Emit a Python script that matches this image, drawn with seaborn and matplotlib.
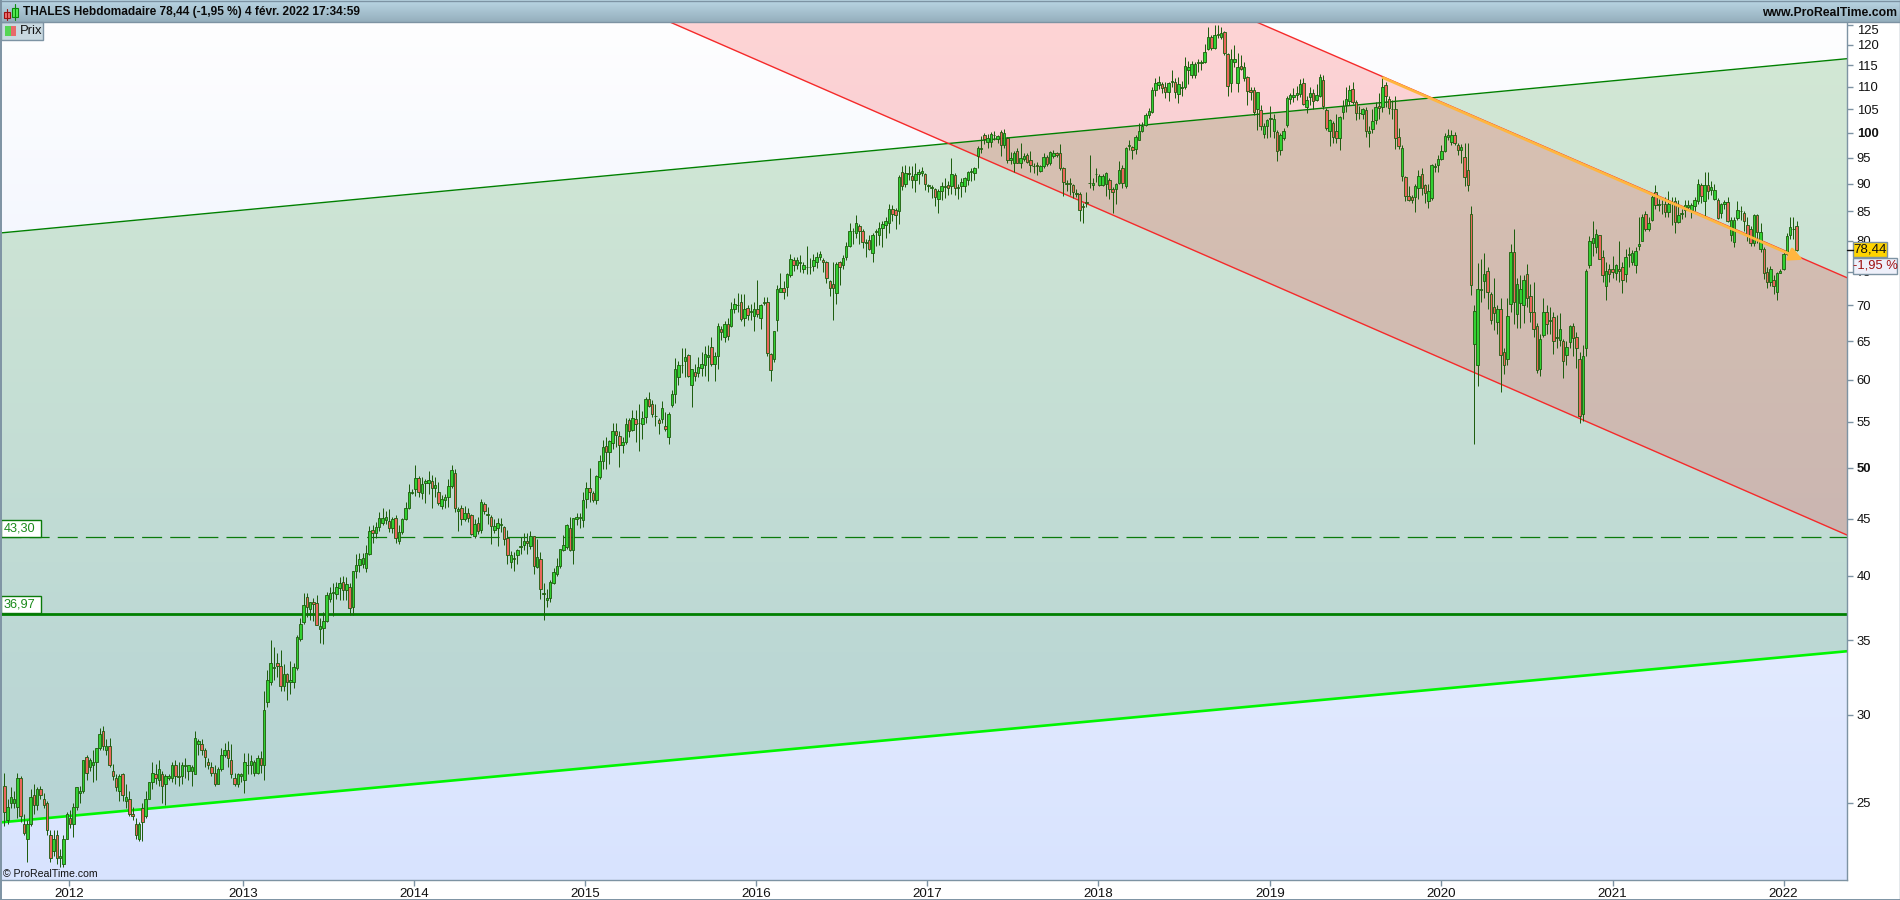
import numpy as np
import pandas as pd
import matplotlib
matplotlib.use('Agg')
import matplotlib.pyplot as plt
import seaborn as sns
from matplotlib.colors import LinearSegmentedColormap
from matplotlib.patches import Rectangle

# weekly candles, oldest first
opens = [
    25.9,24.1,25.0,25.0,24.8,26.3,23.9,23.2,23.9,25.4, 24.9,25.7,25.2,25.0,23.4,22.6,23.4,22.3,22.0,23.2,
    24.2,23.9,24.8,25.5,25.6,27.5,26.9,27.0,27.2,28.0, 29.0,27.9,28.1,26.7,26.3,25.6,26.5,25.1,25.2,24.4,
    23.9,23.2,24.7,24.3,25.2,26.1,26.5,26.2,26.5,26.0, 26.3,26.3,27.0,26.4,26.4,26.95,26.7,26.7,26.5,28.2,
    28.2,27.9,27.2,26.9,26.6,26.0,26.8,27.6,27.9,27.3, 26.3,26.0,26.4,26.2,27.05,27.05,26.6,26.6,27.4,27.0,
    30.8,32.1,33.0,33.4,33.2,31.8,32.6,32.1,32.1,33.0, 35.1,36.3,38.3,37.3,37.9,37.8,35.8,35.9,36.4,38.1,
    38.6,38.5,39.0,39.5,38.8,39.1,37.5,40.4,40.9,41.0, 40.6,41.8,44.0,43.7,44.2,44.6,44.9,44.8,44.1,45.1,
    43.0,43.8,45.0,46.0,47.5,47.8,49.0,47.5,48.4,48.4, 48.6,47.9,47.6,46.2,46.8,47.1,48.1,49.5,45.7,46.0,
    45.0,45.5,45.3,43.4,44.6,44.0,46.4,45.3,45.2,44.0, 44.1,44.4,44.2,43.2,41.1,41.4,41.7,42.4,42.6,43.0,
    42.5,43.4,40.7,41.4,38.5,38.0,38.2,39.4,40.1,40.8, 42.2,42.4,44.1,42.2,45.0,45.1,44.9,46.9,47.9,47.5,
    46.8,49.1,50.7,52.3,51.7,52.6,53.9,53.4,52.4,52.7, 55.2,54.1,55.3,54.8,54.7,55.5,57.7,57.0,55.6,55.2,
    55.3,54.5,53.3,56.9,58.3,60.3,61.8,62.3,63.1,59.4, 60.9,60.8,61.5,61.9,62.9,64.2,62.0,63.0,66.6,65.5,
    67.3,67.0,69.4,70.0,70.4,68.1,69.6,69.0,68.5,69.4, 68.2,70.3,70.4,63.3,62.6,67.9,72.0,72.6,72.7,74.5,
    76.9,76.0,76.4,75.5,75.7,75.7,75.9,76.6,77.3,76.9, 76.5,73.6,73.2,71.8,76.5,76.1,77.4,79.1,81.6,81.3,
    82.5,81.7,79.7,80.1,78.0,81.4,81.0,82.1,82.7,83.0, 85.5,85.3,85.1,92.2,89.9,92.1,91.5,90.8,91.9,92.0,
    91.8,89.6,89.3,89.0,87.3,88.6,89.4,89.7,89.5,91.7, 89.3,89.6,89.6,90.8,92.2,92.0,95.4,96.7,99.5,98.2,
    98.2,99.5,98.7,100.1,97.5,99.0,94.6,94.0,96.4,94.0, 94.8,95.5,94.6,93.3,93.6,92.5,93.4,95.1,94.0,95.3,
    95.9,95.9,93.0,90.0,90.2,89.8,88.2,88.2,85.9,86.6, 90.1,89.7,91.8,89.8,89.8,89.9,90.8,89.1,89.1,90.2,
    92.9,89.6,97.4,97.2,96.7,98.6,100.3,101.7,103.7,104.5, 109.2,110.5,110.6,110.0,108.8,111.2,111.2,108.3,109.7,110.0,
    113.9,112.7,112.7,115.6,115.6,115.8,118.9,122.0,119.3,122.5, 122.0,123.2,117.8,110.8,115.7,110.9,114.9,112.0,112.3,109.3,
    109.3,105.0,104.8,99.8,101.4,103.0,100.3,100.2,96.5,99.0, 101.6,107.3,107.7,108.1,108.3,110.8,105.4,107.7,108.7,107.1,
    108.0,111.5,104.9,100.4,102.1,100.3,99.0,104.4,106.0,106.9, 109.6,106.5,104.3,104.0,104.9,99.9,100.9,102.7,105.7,105.4,
    110.4,107.2,105.0,105.1,99.2,91.4,91.2,87.8,87.6,87.5, 89.3,91.8,89.7,86.8,87.4,93.2,93.6,94.7,96.4,99.1,
    98.2,99.6,97.6,96.5,95.2,92.6,84.5,64.6,61.8,72.3, 73.6,75.1,71.6,69.8,67.6,69.5,63.5,62.6,70.2,78.1,
    68.8,70.3,70.1,74.7,71.4,69.0,67.0,61.4,65.8,69.0, 67.7,68.3,65.6,65.2,65.0,63.1,64.9,67.0,65.5,62.6,
    55.9,64.1,76.0,79.7,79.0,80.9,77.4,72.8,75.4,75.5, 74.9,75.5,75.7,74.6,77.7,76.5,76.1,79.1,80.0,84.5,
    82.0,83.5,88.4,86.1,86.3,86.4,84.9,86.5,86.9,83.2, 84.6,85.2,85.8,85.2,85.9,86.9,89.7,86.9,89.8,88.9,
    87.3,87.1,84.7,86.4,86.7,81.0,79.8,83.9,85.0,84.8, 82.7,81.9,79.7,84.3,78.6,78.6,75.0,73.4,73.7,72.0,
    74.9,75.4,77.8,81.0,81.9,82.5,
]
closes = [
    24.5,24.8,25.3,25.2,26.3,24.3,23.5,23.9,25.3,24.9, 25.7,25.4,24.9,23.6,22.3,23.2,22.3,22.4,23.2,24.4,
    23.9,24.8,25.8,25.6,27.3,26.6,27.3,27.2,28.0,28.8, 28.1,28.1,27.0,26.4,25.8,26.4,25.4,25.3,24.4,24.3,
    23.4,23.9,24.0,25.2,26.1,26.6,26.3,26.8,25.9,26.4, 26.4,27.0,26.4,26.35,27.0,27.0,27.0,26.9,28.6,28.4,
    27.9,27.5,27.0,26.6,26.0,26.8,27.6,27.9,27.4,26.5, 26.0,26.5,26.5,27.2,27.05,27.25,27.2,27.4,27.0,30.3,
    32.2,33.4,33.1,33.2,31.8,32.6,32.1,32.2,33.1,35.2, 36.2,37.6,37.5,37.9,37.7,36.1,36.0,36.4,38.4,38.6,
    38.7,39.1,39.4,38.8,39.3,37.4,40.4,40.9,41.4,41.5, 41.9,43.9,43.7,44.2,45.1,45.1,45.2,44.1,45.0,43.2,
    43.8,45.0,46.0,47.6,47.6,49.0,47.6,48.3,48.6,48.7, 47.9,48.2,46.5,46.9,47.1,48.1,49.8,46.0,45.9,45.0,
    45.5,45.1,43.6,44.5,43.9,46.6,45.7,45.4,44.3,44.3, 44.6,44.5,43.1,41.7,41.7,41.5,42.2,42.5,43.0,42.8,
    43.4,40.8,41.6,38.9,38.6,38.2,39.5,40.3,40.8,42.3, 42.6,44.4,42.2,45.1,45.2,45.2,46.8,47.9,47.6,46.8,
    49.2,50.7,52.2,51.7,52.8,54.0,53.5,52.4,52.7,54.7, 54.0,55.4,54.7,54.9,55.4,57.7,56.8,55.9,55.7,54.8,
    56.6,54.2,55.9,58.2,61.3,61.8,61.9,62.9,60.5,61.3, 60.5,61.6,62.0,63.3,63.1,62.0,63.0,67.0,66.2,67.3,
    65.7,69.4,70.2,70.1,68.0,69.4,68.6,69.1,69.4,68.7, 70.0,70.4,63.4,61.2,66.3,72.4,72.6,72.0,74.7,77.0,
    76.1,76.8,76.6,76.0,75.8,75.8,76.9,77.4,77.8,76.5, 74.1,72.5,72.5,76.2,75.8,77.2,79.1,81.7,81.7,83.0,
    81.7,79.8,79.8,78.7,81.0,81.6,82.2,82.8,83.3,85.5, 84.5,84.3,91.3,89.5,92.1,91.9,90.8,91.9,92.2,92.4,
    89.9,89.7,89.4,87.6,88.7,89.6,89.6,89.3,91.9,89.2, 89.4,90.3,91.0,92.2,92.5,92.9,96.9,97.0,98.7,98.9,
    99.7,99.6,99.3,97.6,100.0,94.6,94.9,96.0,94.0,94.9, 95.4,94.2,93.6,93.4,93.3,93.3,95.1,93.7,96.1,95.9,
    95.6,93.0,90.4,90.1,90.0,88.4,88.3,85.3,85.7,86.5, 90.2,90.2,91.9,91.5,91.5,92.0,89.1,88.5,90.0,92.6,
    90.1,96.9,97.5,96.5,99.2,100.4,101.4,103.8,104.7,109.2, 110.8,111.0,109.8,108.8,110.8,111.3,108.9,110.7,109.9,114.9,
    114.7,115.4,115.4,115.7,115.7,118.2,122.0,119.2,122.4,122.6, 123.0,118.0,110.2,116.6,116.6,114.7,114.1,114.5,109.0,108.9,
    104.4,108.9,101.5,101.4,102.8,103.1,102.9,96.4,99.6,100.4, 107.4,108.1,108.1,108.6,110.7,106.2,107.1,108.7,106.9,108.2,
    112.2,105.8,101.0,102.6,99.2,99.0,103.3,105.8,107.3,109.2, 106.5,104.2,104.1,105.0,100.4,100.4,102.5,105.6,105.3,110.0,
    107.9,105.2,105.1,99.0,97.4,97.0,87.7,87.1,87.1,89.6, 91.5,89.3,88.3,88.7,93.6,93.4,94.7,96.4,99.4,99.6,
    99.6,97.9,96.5,97.1,91.3,89.8,73.0,69.2,72.4,72.4, 74.6,72.0,67.9,68.9,69.5,63.2,61.8,68.5,78.1,70.4,
    73.1,72.4,73.8,71.1,69.0,66.6,61.2,65.3,69.0,67.3, 67.9,65.0,65.4,66.7,62.3,64.2,67.0,65.4,64.0,55.7,
    63.0,75.2,80.0,80.4,81.1,77.0,74.5,75.2,74.7,75.0, 76.0,75.2,73.8,77.4,77.8,78.0,78.3,79.4,84.1,82.0,
    82.9,87.6,86.1,86.4,86.4,84.9,86.3,86.7,83.2,84.4, 84.7,86.2,86.2,86.2,87.1,89.9,87.8,89.8,88.6,89.4,
    88.9,83.9,86.4,86.7,83.4,83.5,83.5,85.2,85.1,83.4, 81.0,79.7,84.3,81.4,81.4,74.8,73.5,75.4,72.9,74.9,
    75.2,77.8,80.7,82.3,82.0,78.44,
]
highs = [
    26.6,25.2,25.8,25.6,26.6,26.4,24.4,24.1,25.7,26.0, 25.8,25.9,25.5,25.1,23.6,23.6,23.6,22.7,23.4,24.5,
    24.6,25.0,25.8,25.9,27.3,27.6,27.4,27.9,28.0,29.2, 29.3,28.5,28.6,27.1,26.5,26.5,26.6,26.0,25.6,24.8,
    24.2,24.0,25.0,25.6,26.1,27.2,27.1,27.3,26.7,26.5, 26.5,27.2,27.3,27.2,27.2,27.4,27.0,27.0,29.0,28.5,
    28.5,28.0,27.4,27.2,27.0,26.9,28.0,28.3,28.4,28.2, 26.6,26.6,26.6,27.7,27.7,27.6,27.3,27.6,27.8,31.5,
    32.9,35.0,34.5,34.1,34.3,33.3,32.7,33.5,33.4,35.4, 36.6,38.6,38.6,37.9,38.2,38.4,36.6,37.1,38.7,39.1,
    39.4,39.5,39.9,40.0,39.9,39.4,40.4,41.8,41.9,41.9, 42.6,44.3,44.4,44.7,45.6,46.0,45.7,45.9,45.2,45.3,
    44.4,45.1,46.6,48.3,47.8,50.3,49.2,49.1,48.9,49.7, 49.3,49.1,48.5,47.3,47.4,48.9,50.3,49.9,46.1,46.3,
    46.2,46.0,45.4,45.0,45.2,46.9,46.6,46.1,45.3,45.0, 45.1,45.1,44.3,44.0,42.1,42.0,42.3,43.3,43.7,43.7,
    43.9,43.4,43.1,42.0,39.4,38.9,39.6,40.6,41.5,42.3, 43.5,44.5,45.2,45.1,45.5,45.5,47.6,48.5,50.0,47.7,
    49.3,51.3,53.0,53.3,53.0,54.8,54.8,53.9,53.3,55.4, 55.4,56.3,56.3,57.0,56.2,57.9,58.5,57.5,57.0,55.4,
    57.4,56.1,56.1,58.7,62.7,62.4,64.0,64.0,63.3,61.4, 62.0,62.9,63.5,64.3,64.4,65.5,63.5,67.5,67.0,67.7,
    68.2,70.4,71.1,71.8,71.6,71.6,70.0,70.2,70.5,73.8, 70.2,71.2,71.2,63.4,66.4,73.0,74.8,73.6,74.8,77.8,
    77.3,77.4,77.6,76.5,79.2,77.2,77.8,78.2,78.3,77.2, 76.7,73.8,76.6,76.6,76.7,77.7,79.8,83.0,82.2,84.4,
    82.8,81.9,80.2,81.0,81.3,82.0,83.1,83.4,84.0,86.4, 86.2,85.6,91.6,93.4,93.5,93.3,93.4,94.0,92.8,93.2,
    92.0,90.0,89.7,89.2,89.0,90.4,91.0,90.5,95.0,92.0, 90.0,91.0,91.3,92.4,93.0,93.1,97.3,99.3,100.0,99.7,
    100.2,100.4,99.5,100.7,100.9,99.1,96.1,96.3,97.0,98.0, 95.9,96.0,96.4,94.0,94.2,93.6,96.0,95.5,96.4,96.6,
    96.2,97.7,93.1,90.8,91.0,90.0,89.0,88.5,86.5,88.4, 95.5,91.0,93.0,91.8,91.8,92.3,91.0,89.4,90.2,94.3,
    93.5,97.2,98.5,97.4,99.6,102.0,102.3,104.1,105.2,110.0, 112.0,112.4,111.0,111.0,111.2,114.0,112.1,112.3,111.4,116.9,
    116.0,116.0,115.8,116.5,116.3,120.3,124.6,122.5,125.0,124.9, 124.6,123.4,118.0,119.0,120.0,118.0,117.6,115.7,112.5,110.0,
    110.0,108.9,106.0,102.0,103.0,105.7,104.0,100.5,100.0,101.0, 108.0,108.7,109.8,110.2,111.7,112.0,108.0,110.0,109.5,110.6,
    113.0,112.8,105.3,103.0,102.5,104.0,103.5,107.0,109.9,110.5, 111.0,107.0,105.8,105.3,105.5,101.5,105.0,106.6,108.6,112.5,
    111.0,107.9,107.0,108.0,101.0,97.5,91.5,89.5,88.0,90.0, 92.6,92.9,90.0,89.9,93.8,94.0,95.5,97.5,100.0,100.8,
    100.6,100.2,98.0,97.8,98.0,98.0,86.0,70.0,76.4,77.0, 78.0,75.7,72.0,74.0,70.0,71.0,64.0,71.0,79.4,82.0,
    74.0,74.5,74.5,76.2,73.2,73.4,67.5,66.0,71.0,70.0, 69.8,69.0,68.6,68.9,65.3,65.0,67.2,67.5,66.2,63.5,
    64.5,75.5,80.8,83.3,82.0,81.0,78.5,76.5,76.2,77.5, 76.2,80.0,76.5,78.6,79.0,78.5,79.0,84.0,84.5,85.0,
    84.0,88.0,89.7,87.3,87.0,87.5,88.6,87.5,87.6,87.0, 85.5,87.0,87.0,86.5,87.5,90.9,90.1,92.2,92.2,90.6,
    89.9,87.4,86.5,87.0,87.5,84.0,84.0,86.8,86.0,85.0, 84.0,82.5,84.6,84.6,83.0,79.0,75.8,75.9,74.5,75.0,
    75.4,78.5,81.3,84.1,84.1,83.3,
]
lows = [
    23.8,23.9,24.7,24.7,24.2,24.0,23.4,22.1,23.8,24.4, 24.6,25.2,24.7,23.4,22.1,22.4,22.0,21.9,21.9,23.2,
    23.7,23.3,24.6,25.0,25.5,26.2,26.7,26.1,26.2,27.9, 27.9,27.6,26.9,26.2,25.6,25.1,25.1,24.7,24.3,24.1,
    23.2,23.1,23.1,24.2,25.2,25.7,26.0,25.9,25.0,24.9, 26.2,26.1,26.0,25.9,26.0,26.3,26.2,25.9,26.5,27.6,
    27.6,26.9,26.8,26.4,25.9,26.0,26.7,27.5,26.9,26.3, 25.9,25.8,26.1,25.5,26.5,26.5,26.4,26.5,26.6,26.2,
    30.5,31.9,32.2,32.4,31.5,31.5,30.9,31.3,31.7,32.9, 34.9,36.2,36.7,36.5,36.4,36.1,34.8,34.7,36.3,37.9,
    36.8,38.1,38.0,38.0,38.0,36.9,36.9,39.8,40.3,40.6, 40.3,41.7,42.8,43.2,43.9,44.4,44.5,43.8,43.7,42.8,
    42.7,43.6,44.9,45.9,47.4,47.2,47.1,46.9,46.5,47.4, 46.0,47.1,46.3,45.9,46.0,46.1,47.9,45.6,43.9,44.4,
    44.8,44.7,43.5,43.2,43.6,43.7,45.4,44.5,42.7,43.7, 42.5,43.8,42.6,41.0,40.6,40.4,41.0,41.8,42.2,41.8,
    42.3,40.1,40.6,38.1,36.5,37.5,37.9,39.3,40.0,40.6, 42.1,42.3,42.1,41.0,44.4,44.1,44.2,46.0,46.6,46.6,
    46.4,48.9,49.9,49.9,50.4,52.0,52.2,50.1,51.6,52.5, 53.3,53.9,52.7,51.8,53.1,54.9,56.7,55.5,54.5,53.6,
    54.9,54.0,52.5,56.7,57.2,59.4,60.8,60.3,60.3,56.7, 59.8,60.3,60.5,60.4,59.8,61.7,59.8,61.3,65.1,64.8,
    65.1,66.9,68.9,69.0,67.8,67.0,67.9,67.9,66.4,68.3, 66.6,70.0,63.0,59.8,62.2,66.4,71.9,70.9,71.4,74.2,
    75.2,75.4,75.0,74.9,74.7,74.7,75.2,75.6,76.9,75.0, 73.3,71.4,67.9,70.2,73.0,75.5,76.9,79.0,79.5,80.5,
    79.5,78.8,77.4,78.5,76.6,79.2,79.3,79.0,80.4,81.2, 83.4,81.9,82.8,88.8,89.4,90.7,89.3,88.4,90.0,91.5,
    88.9,88.5,87.4,85.9,84.7,87.1,87.4,87.9,88.2,88.0, 87.3,87.6,88.4,89.8,90.6,90.8,93.0,96.0,97.7,96.9,
    97.1,98.5,97.9,95.4,97.0,94.0,93.7,92.2,93.9,92.9, 94.4,93.9,92.2,92.0,91.7,92.3,92.9,93.3,93.5,95.0,
    95.2,92.6,87.7,88.6,88.0,87.4,87.6,83.4,83.0,85.7, 89.2,88.9,90.3,89.6,89.6,87.8,87.2,84.8,86.3,90.0,
    89.3,89.3,96.5,94.7,95.7,98.5,100.1,101.5,103.2,104.3, 108.0,109.5,108.6,107.5,106.8,109.9,107.5,106.3,108.0,109.5,
    110.6,112.0,112.0,113.5,113.9,115.6,118.7,118.7,119.0,121.8, 121.5,117.5,108.0,108.8,114.5,108.8,113.8,111.4,105.9,107.0,
    103.7,100.5,100.5,98.9,99.0,99.1,98.9,94.4,95.5,98.5, 101.2,106.2,106.5,107.0,107.6,106.0,104.2,106.0,105.0,106.8,
    107.6,105.0,100.6,97.4,97.9,97.9,96.5,103.0,104.5,106.0, 106.2,102.6,103.0,103.0,99.2,97.2,99.9,101.8,103.0,104.5,
    105.6,104.0,103.0,96.8,96.8,90.6,86.8,86.8,86.5,84.9, 87.3,88.0,86.5,85.6,87.0,92.3,92.2,94.5,96.2,98.6,
    97.6,97.5,95.5,94.0,89.5,88.6,71.5,52.5,59.2,70.5, 71.0,69.5,67.3,66.5,66.0,58.5,60.7,61.8,69.0,67.3,
    66.8,66.8,67.5,69.8,67.6,65.6,60.8,60.4,65.5,66.0, 66.0,63.3,64.0,64.3,60.2,61.9,64.0,63.0,61.5,54.9,
    55.1,63.0,75.6,77.5,78.0,77.0,73.5,70.8,73.5,74.0, 73.7,73.5,71.8,73.4,75.8,76.0,74.8,78.4,79.9,81.6,
    81.6,83.3,85.5,85.0,84.6,84.0,84.0,82.7,81.3,82.9, 83.7,84.1,85.2,83.9,85.0,86.4,86.5,84.1,87.2,88.0,
    87.0,83.7,83.9,85.5,83.2,80.0,79.0,83.5,83.5,81.7, 80.0,79.2,79.2,79.7,78.2,73.9,72.5,72.8,71.6,70.7,
    74.8,75.3,77.6,80.2,80.3,78.3,
]

# axis values
year_labels = ['2012', '2013', '2014', '2015', '2016', '2017', '2018', '2019', '2020', '2021', '2022']
year_positions = [19.7, 72.6, 124.6, 176.6, 228.6, 280.5, 332.5, 384.8, 436.9, 489.0, 541.0]
price_ticks = [25, 30, 35, 40, 45, 50, 55, 60, 65, 70, 75, 80, 85, 90, 95, 100, 105, 110, 115, 120, 125]

# trend lines: candle index and price at both ends
span_x = [-1.0, 560.3]
upper_green = [81.3, 116.6]
lower_lime = [24.0, 34.2]
channel_x = [202.1, 560.3]
channel_top = [213.0, 74.1]
channel_bottom = [125.9, 43.5]
arrow_x = [419.2, 546.9]
arrow_y = [112.1, 76.9]
support_levels = [43.30, 36.97]

df = pd.DataFrame({'open': opens, 'high': highs, 'low': lows, 'close': closes})
df['i'] = np.arange(len(df))
df['up'] = df['close'] >= df['open']

sns.set_theme(style='white')
plt.rcParams['font.family'] = ['Liberation Sans', 'DejaVu Sans']

fig = plt.figure(figsize=(19, 9), dpi=100, facecolor='white')
GRAY = '#7d93a3'

def box(x0, y0, x1, y1):
    return [x0 / 1900, 1 - y1 / 900, (x1 - x0) / 1900, (y1 - y0) / 900]

# soft background behind the chart
bg = fig.add_axes(box(1, 22, 1847, 880))
bg_cmap = LinearSegmentedColormap.from_list('bg', ['#fefeff', '#d8e3fe'])
bg.imshow(np.linspace(0, 1, 200).reshape(-1, 1), aspect='auto', cmap=bg_cmap)
bg.axis('off')

ax = fig.add_axes(box(1, 22, 1847, 880))
ax.patch.set_alpha(0)
ax.set_yscale('log')

# zones
ax.fill_between(span_x, lower_lime, upper_green, color='#008000', alpha=0.165, lw=0, zorder=1)
ax.fill_between(channel_x, channel_bottom, channel_top, color='#ff0000', alpha=0.165, lw=0, zorder=1)

# trend lines
sns.lineplot(x=span_x, y=upper_green, color='#008000', lw=1.0, ax=ax, zorder=2, legend=False, errorbar=None)
sns.lineplot(x=span_x, y=lower_lime, color='#00f500', lw=1.9, ax=ax, zorder=2, legend=False, errorbar=None)
sns.lineplot(x=channel_x, y=channel_top, color='#f52a2a', lw=1.0, ax=ax, zorder=2, legend=False, errorbar=None)
sns.lineplot(x=channel_x, y=channel_bottom, color='#f52a2a', lw=1.0, ax=ax, zorder=2, legend=False, errorbar=None)
ax.axhline(support_levels[0], color='#0a7a0a', lw=0.9, ls=(0, (16, 6.5)), zorder=2)
ax.axhline(support_levels[1], color='#008000', lw=2.0, zorder=2)

# candles
wick_color = '#1f5e10'
ax.vlines(df['i'], df['low'], df['high'], color=wick_color, lw=0.72, zorder=3)
body_bottom = df[['open', 'close']].min(axis=1)
body_height = (df['close'] - df['open']).abs()
body_colors = np.where(df['up'], '#32d032', '#ea665c')
ax.bar(df['i'], body_height, bottom=body_bottom, width=0.76, color=body_colors,
       edgecolor=wick_color, linewidth=0.62, zorder=4)

# orange arrow on top of the candles
ax.annotate('', xy=(arrow_x[1], arrow_y[1]), xytext=(arrow_x[0], arrow_y[0]), zorder=6,
            arrowprops=dict(arrowstyle='-|>', color='#ffb63f', lw=2.0, mutation_scale=20,
                            shrinkA=0, shrinkB=0))

ax.set_xlim(-1.0, 560.3)
ax.set_ylim(21.3, 125.8)
ax.minorticks_off()
ax.set_xticks(year_positions, labels=year_labels)
ax.set_yticks(price_ticks, labels=[str(p) for p in price_ticks])
ax.yaxis.tick_right()
ax.minorticks_off()
ax.tick_params(axis='x', length=4, width=1, color=GRAY, labelsize=9.6, labelcolor='#111111', pad=2, bottom=True)
ax.tick_params(axis='y', length=4, width=1, color=GRAY, labelsize=9.4, labelcolor='#111111', pad=3, right=True)
for lab, p in zip(ax.get_yticklabels(), price_ticks):
    if p in (50, 100):
        lab.set_fontweight('bold')
    if p == 125:
        lab.set_va('top')
for name in ['top', 'left']:
    ax.spines[name].set_visible(False)
for name in ['right', 'bottom']:
    ax.spines[name].set_color(GRAY)
    ax.spines[name].set_linewidth(1.0)

# window chrome drawn in pixels
ui = fig.add_axes([0, 0, 1, 1], zorder=10)
ui.patch.set_alpha(0)
bar_cmap = LinearSegmentedColormap.from_list('bar', ['#bad6e4', '#95afbd'])
ui.imshow(np.linspace(0, 1, 30).reshape(-1, 1), aspect='auto', cmap=bar_cmap, extent=[0, 1900, 22, 0])
ui.set_xlim(0, 1900)
ui.set_ylim(900, 0)
ui.axis('off')

def rect(x0, y0, x1, y1, fc, ec='none', lw=0.8):
    ui.add_patch(Rectangle((x0, y0), x1 - x0, y1 - y0, facecolor=fc, edgecolor=ec, linewidth=lw))

ui.plot([0, 1900], [21.5, 21.5], color=GRAY, lw=1)
ui.plot([0.5, 0.5], [0, 900], color=GRAY, lw=1.4)
ui.plot([0, 1900], [899.5, 899.5], color=GRAY, lw=1.4)
ui.plot([1899.5, 1899.5], [0, 900], color=GRAY, lw=1)
ui.plot([0, 1900], [0.5, 0.5], color=GRAY, lw=1)

# title bar
ui.text(23, 12.5, 'THALES Hebdomadaire 78,44 (-1,95 %) 4 févr. 2022 17:34:59', fontsize=8.6,
        fontweight='bold', color='#0a0a0a', va='center', ha='left')
ui.text(1897, 12.5, 'www.ProRealTime.com', fontsize=8.8, fontweight='bold', color='#0a0a0a',
        va='center', ha='right')
ui.plot([6.5, 6.5], [9, 20], color='#a01010', lw=0.8)
rect(3.5, 11.5, 9.5, 17.5, '#f07070', '#a01010')
ui.plot([14.5, 14.5], [4, 20], color='#0a8a0a', lw=0.8)
rect(11.5, 7.5, 17.5, 16.5, '#55ee55', '#0a8a0a')

# legend tab
rect(1, 22, 42.5, 39.5, '#c9d9e1', GRAY, 1.0)
rect(5, 26, 10.5, 36, '#55d555')
rect(10.5, 26, 16, 36, '#e86a6a')
ui.text(19.5, 31, 'Prix', fontsize=9.4, color='#111111', va='center', ha='left')

# level labels at left
for level, y0, y1 in [(support_levels[0], 519.5, 537), (support_levels[1], 595.5, 612.5)]:
    rect(1, y0, 40.5, y1, 'white', '#0a7a0a', 1.0)
    ui.text(3.5, (y0 + y1) / 2 + 0.5, f'{level:.2f}'.replace('.', ','), fontsize=9.2, color='#1a8a1a',
            va='center', ha='left')

ui.text(3, 874, '© ProRealTime.com', fontsize=7.6, color='#111111', va='center', ha='left')

# last price tags on the right axis
ui.plot([1847, 1853], [249.5, 249.5], color='#111111', lw=1)
rect(1853, 242, 1887, 257, '#ffd400', GRAY, 1.0)
ui.text(1870, 250, '78,44', fontsize=9.6, color='#111111', va='center', ha='center')
rect(1852.5, 257.5, 1897, 273.5, '#eef0fa', GRAY, 1.0)
ui.text(1875, 265.5, '-1,95 %', fontsize=9.4, color='#a01010', va='center', ha='center')

fig.savefig('out.png', dpi=100)
